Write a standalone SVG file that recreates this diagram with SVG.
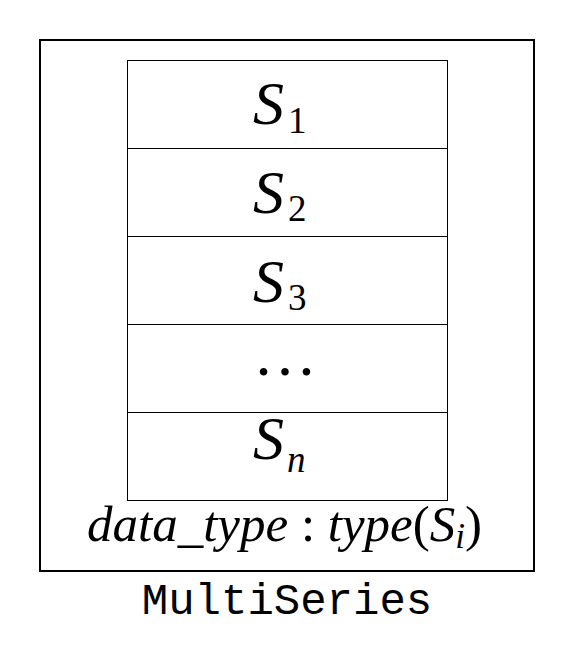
<svg xmlns="http://www.w3.org/2000/svg" width="574" height="672" viewBox="0 0 574 672">
<style>
.outer{fill:#fff;stroke:#000;stroke-width:2}
.cell{fill:#fff;stroke:#000;stroke-width:1}
.m{font-family:"Liberation Serif","Times New Roman",serif;font-style:italic;fill:#000}
.up{font-family:"Liberation Serif","Times New Roman",serif;font-style:normal;fill:#000}
.big{font-size:62px}
.sub{font-size:37px}
.lbl{font-family:"Liberation Mono","Courier New",monospace;font-size:44px;fill:#000}
</style>
<rect width="574" height="672" fill="#fff"/>
<g id="multiseries">
<rect class="outer" x="40" y="40" width="494" height="531"/>
<text class="lbl" x="287" y="614" text-anchor="middle">MultiSeries</text>
</g>
<g id="s1">
<rect class="cell" x="127.5" y="60.5" width="320" height="88"/>
<text class="m big" x="253" y="124">S</text>
<text class="up sub" x="288" y="132.5">1</text>
</g>
<g id="s2">
<rect class="cell" x="127.5" y="148.5" width="320" height="88"/>
<text class="m big" x="253" y="212.5">S</text>
<text class="up sub" x="288" y="221">2</text>
</g>
<g id="s3">
<rect class="cell" x="127.5" y="236.5" width="320" height="88"/>
<text class="m big" x="253" y="301.5">S</text>
<text class="up sub" x="288" y="310">3</text>
</g>
<g id="dots">
<rect class="cell" x="127.5" y="324.5" width="320" height="88"/>
<text class="up" font-size="64" x="285" y="375" text-anchor="middle">…</text>
</g>
<g id="sn">
<rect class="cell" x="127.5" y="412.5" width="320" height="88"/>
<text class="m big" x="253" y="459">S</text>
<text class="m sub" x="287" y="472">n</text>
</g>
<g id="datatype">
<text class="m" font-size="51" x="87" y="541">data_type<tspan class="up"> : </tspan>type<tspan class="up">(</tspan>S<tspan font-size="35" dy="7">i</tspan><tspan class="up" dy="-7">)</tspan></text>
</g>
<g id="connectors"/>
</svg>
